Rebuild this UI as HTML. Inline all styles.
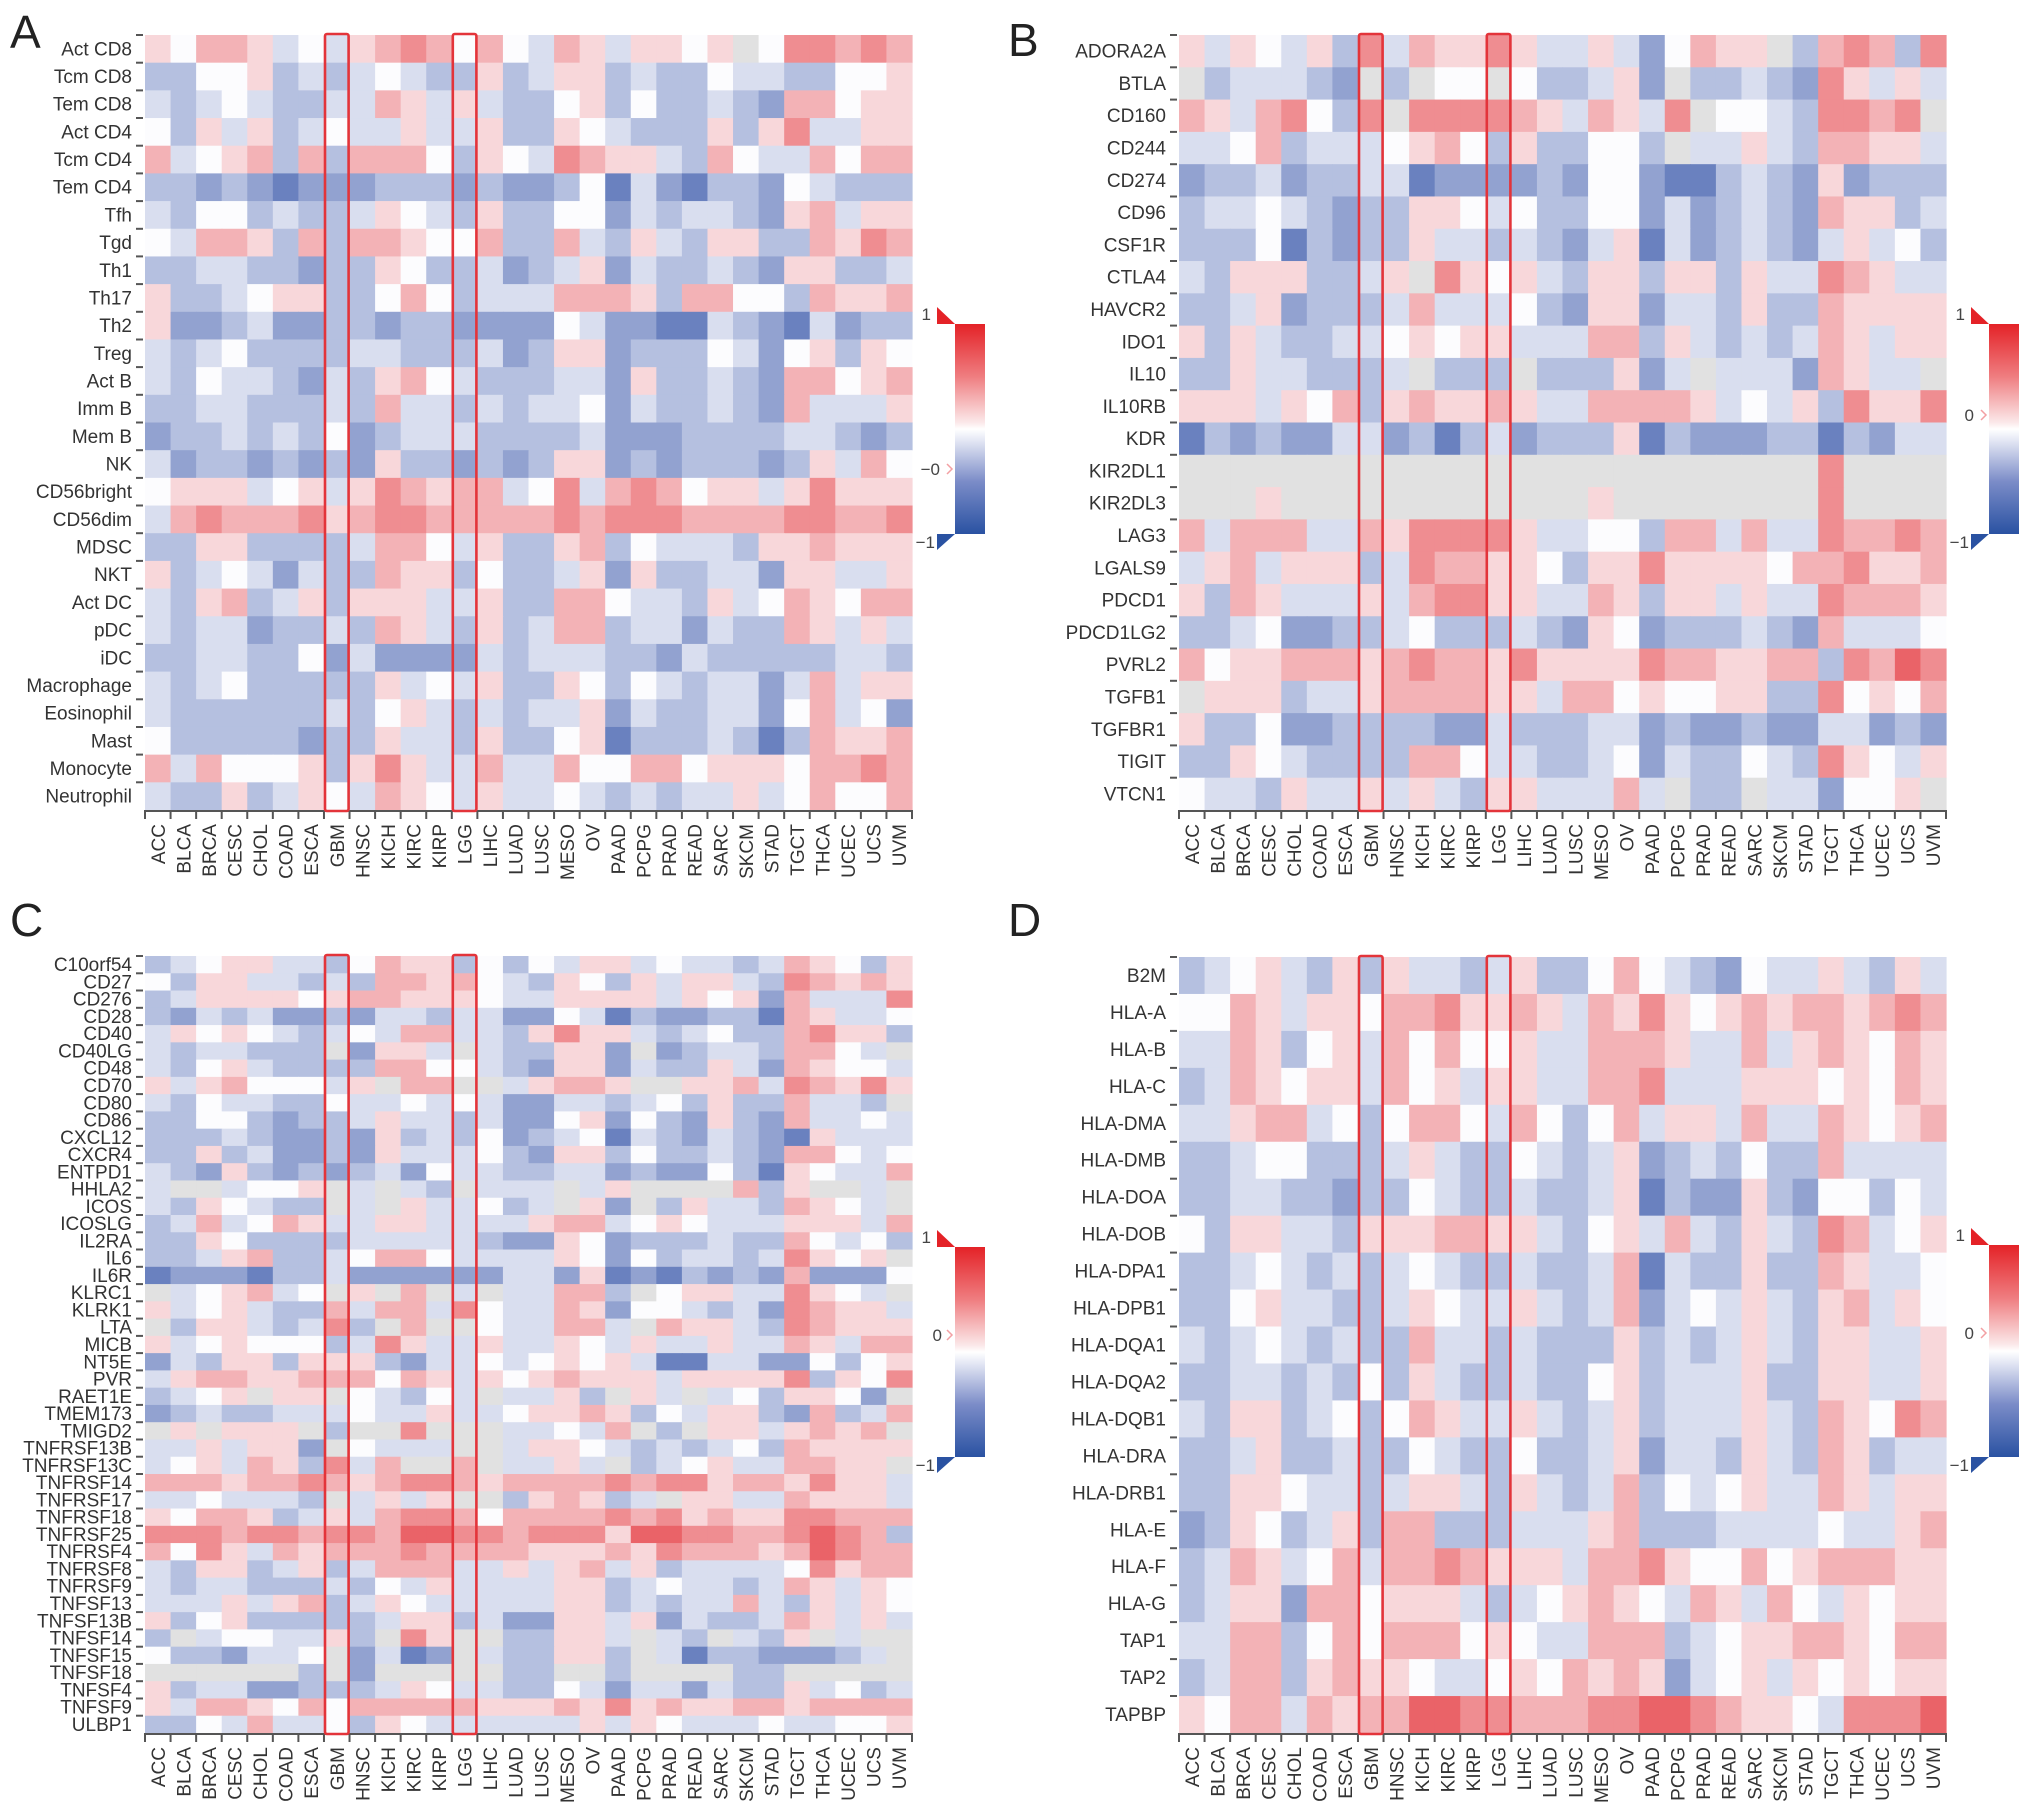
<!DOCTYPE html>
<html><head><meta charset="utf-8">
<style>
html,body{margin:0;padding:0;background:#fff;}
svg{display:block;font-family:"Liberation Sans",Arial,sans-serif;}
</style></head>
<body>
<svg id="fig" width="2032" height="1818" viewBox="0 0 2032 1818" xmlns="http://www.w3.org/2000/svg">
<defs>
<linearGradient id="cbar" x1="0" y1="0" x2="0" y2="1">
<stop offset="0" stop-color="#e42227"/>
<stop offset="0.25" stop-color="#ef7d80"/>
<stop offset="0.47" stop-color="#fbe9ea"/>
<stop offset="0.5" stop-color="#ffffff"/>
<stop offset="0.55" stop-color="#e6e9f5"/>
<stop offset="0.75" stop-color="#7b8cc8"/>
<stop offset="1" stop-color="#2a52a2"/>
</linearGradient>
</defs>
</svg>
<script>
// ---- data ----
const cancers = ["ACC","BLCA","BRCA","CESC","CHOL","COAD","ESCA","GBM","HNSC","KICH","KIRC","KIRP","LGG","LIHC","LUAD","LUSC","MESO","OV","PAAD","PCPG","PRAD","READ","SARC","SKCM","STAD","TGCT","THCA","UCEC","UCS","UVM"];
const highlighted = ["GBM","LGG"];
// level codes: D C B A = -0.62 -0.45 -0.3 -0.15 ; . = 0 ; a b c d = 0.15 0.3 0.45 0.62 ; g = NA
const rowsA = ["Act CD8","Tcm CD8","Tem CD8","Act CD4","Tcm CD4","Tem CD4","Tfh","Tgd","Th1","Th17","Th2","Treg","Act B","Imm B","Mem B","NK","CD56bright","CD56dim","MDSC","NKT","Act DC","pDC","iDC","Macrophage","Eosinophil","Mast","Monocyte","Neutrophil"];
const valuesA = [
"a . b b a A . A a b c b . b . A b a A a a . a g . c c b c b",
"B B . . a B A B A . A B B a B A a a B A B B . A A B B . . a",
"A B A . A B B A A b a A a A B B . a B . B B A B C b b . a a",
". B a A a B A . A A a A A a B B a . A B B B a B a c A A a a",
"b A . a b B b B b b b . B a . A c b a a A B b . A A b . b b",
"B B C B C D C C C B B B C B C C B . D A C D B B C . A B B B",
"A B . . B A B B A a . A B a B B . . C A B A A B C a b A a a",
". A b b a B b B b b a . . b B B b A B a A B a a B B b a c b",
"B B A A B B C B B a . B B A C B A a C A B B A B C a a B B A",
"a B B A . a a B B . b . B A A A b b b a B b b . . B b a a b",
"a C C B A C C B B C B B C C C C . A C C D D A B C D A C B B",
"A B A . B B B B A A B B B A C B a a C B B B . A C . a B a .",
"A B . A A B C A B a b . A B B B A A C a B B A B C b b . a b",
"B B A A B B B A B b A A B A B A A . C A B B A B C b A A A a",
"C B B A B A B . C B A A A B B B B A C C C B B B B A A B C B",
"A C B B C B C B C a B B C B C B a a C B C B B B C B a A b .",
". a a a A . a A a c b a b b A . c A b c b . a a A a c a a a",
"A b c b b b c a b c c b b b b b c b c c c b b b b c c b b c",
"B B a a B B B B A b b . A a B B a b B . A A A B a a b a a a",
"a B A . A C A B B b a a B . B B A a C a B B A A C a a A A a",
"A B a b B A a B a a a A A a B B b b . A A B a A . b a . b b",
"A B A A C B B A B b a A B a B A b b B A A C A B B b a A a A",
"B B A A B B . C A C C C C A B A A A B B C A B B B B B A A B",
"A B A . B B B B B a A . A a B B a . B . A B A A C A b A a a",
"A B B B B B B A B . a A B A B A A a C A B B A A C . b A . C",
". B B B B B C B B a A A B a B B . a D B B B A B D B b a a b",
"b A b . . . a B a c a A A b A A b . . b b . a a a . b b c b",
"A B B a B A a . A b a . A a A A . A B A B A A a A . b . . b"];
const rowsB = ["ADORA2A","BTLA","CD160","CD244","CD274","CD96","CSF1R","CTLA4","HAVCR2","IDO1","IL10","IL10RB","KDR","KIR2DL1","KIR2DL3","LAG3","LGALS9","PDCD1","PDCD1LG2","PVRL2","TGFB1","TGFBR1","TIGIT","VTCN1"];
const valuesB = [
"a A a . A a B c A b a a c a A A a A C . b a a g B b c b B c",
"g B A A A B C g B g . . g . B B A a C g B B A B C c a A a A",
"b a A b c . B c g c c c c b a A b a A c g . . A B c c b c g",
"A A . b B A A A . a b . B a B B . . B g A A a A B b b a a A",
"C B B A C B B A A D C C C C B C . . C D D B A B C a C B B B",
"B A A . A B C B B a a . A . B B . . C A C B A B C b a a B A",
"B B B . D B C B B a A A B A B C A a D A C B A B C A a A . B",
"A B a a a B B A a g c a . a A B a a B a a B a A A c b a A A",
"B B A a C B B B A b A A A . B C a a C A A B a B B b a a a a",
"a B a A B B A A . a . a a A A A b b B a A B A B A b a A a a",
"B B a A A B B B A g B B B g B B B a C A g A A A C b a A A g",
"a a a A a . b B a b a a b a A A b b b b a A . A a B c a a c",
"D B C B C C A A C B D B A C B B B a D B C C C B B D B C A A",
"g g g g g g g g g g g g g g g g g g g g g g g g g c g g g g",
"g g g a g g g g g g g g g g g g a g g g g g g g g c g g g g",
"b A b b b A A b a c c c c a A A . . B b b A b A A c b b c b",
"A a b A a a a B A c b b a a . B a a c a a a a . b b c a a b",
"a B b a A A A a A b c c a a A A b a B a a A a A A c b b b a",
"B B A . C C B B A . B B B A B C a . C B B B A B C b A A A .",
"b . a a b b b a b c b b a c a a a a c b b a a b b B c b d c",
"g a a a B A A a b b b b a a A b b . a . . a a B B c . a . b",
"a B B . C C B B B B C C A B B B A A C B C C B C C A A C B C",
"B B a . A B B B B b b . A A B B A . C A B B . A B c a . A a",
". A A B a A A a A a A B a a A A A b A g B B g A A C . . a g"];
const rowsC = ["C10orf54","CD27","CD276","CD28","CD40","CD40LG","CD48","CD70","CD80","CD86","CXCL12","CXCR4","ENTPD1","HHLA2","ICOS","ICOSLG","IL2RA","IL6","IL6R","KLRC1","KLRK1","LTA","MICB","NT5E","PVR","RAET1E","TMEM173","TMIGD2","TNFRSF13B","TNFRSF13C","TNFRSF14","TNFRSF17","TNFRSF18","TNFRSF25","TNFRSF4","TNFRSF8","TNFRSF9","TNFSF13","TNFSF13B","TNFSF14","TNFSF15","TNFSF18","TNFSF4","TNFSF9","ULBP1"];
const valuesC = [
"B A . a a A A B . b a a B . B . A a a A . A A B A b a . B a",
". B a a A A B A B b b a b . A B a . B a A a a A B c b a b a",
"B A a a a a . a b b a a a . A A a a a a A a . a C b A A A c",
"B C A B A C C B C A A B A A C C . A D B C C B B D b a A A .",
"A a . a . A B A . A b b A A B a c a a A B A . B B b c a a B",
"A B A A B B B g C a a A g A B B a a C g C B A A B b b . A g",
"A B . a A B B B B b b . . A B C a a C A B B a A C b a . . A",
"a A a b . . . A a g b b g g A a b b a g g a a b A c b a c a",
"A B . A A B B . A A . A . A C C A A B A . B a B B b A A B g",
"B B . . B C B B A a A A B A C C . a C . B C a B C b A A . A",
"B B B A B C C B C a B A B . C B A . D A B C A B C D a A A A",
"B B a B A C C B C a A A A . B C a a B . B B A B C b b . A .",
"A B C a B C B C B A C . A A B B A A C B C C . B D a . A A b",
"A g g A . . a g A g A B g A A A g A a g g g g b B a g g A g",
"A B a . A B B g A g a A A . B A g a C g B a A A B b a . A g",
"B A b A . b a A A a a A A A A a b b A . a . A A A a a a A b",
"B B a . B B B B A A A A A B C C a . C B B B A B B b . A . B",
"B B A a b B B A . b b . A A A A a . C . B A A B A c a . a g",
"D C C C D B B A C C C C C C A A C a D C D B C B C b C C C .",
"g A . a b A . g a g b g A g A A b b B g . a a A A c a . A g",
"a A . a A B B b A b b A c . A A b a C . . A B A C c b a a A",
"g B a a A B A c B g b g g . A A b b A g b a a A B c b a a a",
"a A . a . . . B A c a A A a A A a . A a A A a A A b a A b b",
"C A B a a B a a a B C A A . A . a . a A D D A A C C . B . a",
"A a b b a a b b b . b a A a . a b a a a A a a a a c B a . c",
"B A . a g a a g . A B . A g A A a B g a A g A . B a a . C g",
"C B A B B A A A . A A a A A . a a b a B . A a a B C b B A b",
"g a g a a a g B g g c g g g A A . A b g B g a a A a b a b g",
"A A a A a a C g . A A A g g A a a . A B A B A . B b a a a a",
"A . a A b a B c A b g g b g A A a A g B A . a A A b b a a g",
"b b b a b b c b a b c c b a b b b b c b c c a b b a c a a A",
"A A . A A A B g A a A a g g B a b a B A g a a A A b a a a A",
"a . b b a B A a A b c c b . b b b b c b c a b a a c c b b b",
"c c c b c c b c c b d d c c b c c c a d d c c b b c d c b B",
"b . c a A b a b b b c b b b b a a a b a c b b b a b d c b b",
"A B a a B A a B A b b b A A a A a b A a B A A A A . c a b b",
"A B A A B B B A B . A a A A A A a a B A . A A B A b a A a .",
"A A A a A a b B A a . A A A A A a a B A B A A b A B a A a .",
"a B . a B B B B B A a a B A C C a a A a C A B B A b a A a A",
"B g A . . A A a B g c a g g B B a a A g A B g A B a g A g g",
". B B C A A . g C A D C g A B B a a B g A D B B C C C B A g",
"g g g g g g B g C g g g g g B B g g B g g g g B B g g g g g",
"a B A A C C B B B A a . A A B B . A C A A C A B B a A . B A",
"a A b b a . b . b b b b b a a a b a c a b a a b b a b b b b",
"B B . A b A A . B a . A A A A A A a A a . A A A . A A . . a"];
const rowsD = ["B2M","HLA-A","HLA-B","HLA-C","HLA-DMA","HLA-DMB","HLA-DOA","HLA-DOB","HLA-DPA1","HLA-DPB1","HLA-DQA1","HLA-DQA2","HLA-DQB1","HLA-DRA","HLA-DRB1","HLA-E","HLA-F","HLA-G","TAP1","TAP2","TAPBP"];
const valuesD = [
"B A . a A B a B a A A B A a B B . b . A B C . A A a A B a A",
". . b a A a a . b b c a a b a A b a c a . a b a b b a b c b",
"A A b a B . a A b . b . . a A A b b b a A A b A a b a . b a",
"B A b a . a a A b . a A a a A A b b c A A A a a a . a . b a",
"A A a b b A . B . b b . A b . B . b A a a A b A A b a . a b",
"B B A . . B B B A a A B B . A B A a C B A B . B B b A A A A",
"B B A A B B C B B . A B B A B B A a D B C C a B C . . B . A",
". B a a A A B a a a b b a a A B . a A b A B a A B c b A . a",
"B B A . A B A B A . A B B A B B A b D A B B a B B b a A A .",
"B B . a A A B B A a . A A a A B A b C A . A a A B a b A a .",
"A B A . A B A B B b A A B A B B B a B A B A a A B a a A A a",
"B B A A B A B . B a A B B A B B . a B A A A a B B a a A A a",
"A B a a B A . B . b a A A a A B A a B A A A a A B b a . c b",
"B B A a B B A B B . A B B . B B A a C A A B a A B b a B A A",
"B B a a . A A B A a a A B a A B A b B . A . a A A b a A a a",
"C B a . B A a B b b B B B A A A a b B B B A A A A . A A a b",
"B A b a A . b A b b c b a a a A b b c a . . b . a b b b a a",
"B A a a C b b . a a a A B A . a b a . A b a A b . A a . a a",
"A A b b B . b . b b b . a . A A b b b B A . a a b b a . b b",
"B A b b B a b a a . A A . a . b a b a C A . a A a . a . a a",
"a . b b A b a b b d d c c b b b c c d d c b a a . A c c c d"];

// ---- encoding / scales ----
const codeVal = {"D":-0.62,"C":-0.45,"B":-0.3,"A":-0.15,".":0,"a":0.15,"b":0.3,"c":0.45,"d":0.62};
function decode(rows){
  return rows.map(r=>{
    const t=r.trim().split(/\s+/);
    while(t.length<30)t.push(".");
    return t.slice(0,30).map(c=> c==="g"?null:codeVal[c]);
  });
}
function colorFor(v){
  if(v===null||v===undefined) return "#e1e1e1";
  const w=[252,252,254];
  const e = v<0 ? [47,79,166] : [227,38,44];
  const t=Math.min(1,Math.abs(v)*1.15);
  const c=w.map((x,i)=>Math.round(x+(e[i]-x)*t));
  return "rgb("+c.join(",")+")";
}
const NS="http://www.w3.org/2000/svg";
const svg=document.getElementById("fig");
function mk(tag,attrs,parent){
  const el=document.createElementNS(NS,tag);
  for(const k in attrs) el.setAttribute(k,attrs[k]);
  (parent||svg).appendChild(el);
  return el;
}

const panels=[
 {key:"a",letter:"A",lx:10,ly:48,x0:145,y0:35,x1:912,y1:810,rows:rowsA,vals:valuesA,cb:{x:955,y:324,h:210,zeroY:469,zeroLbl:"\u22120",lblX:932}},
 {key:"b",letter:"B",lx:1008,ly:56,x0:1179,y0:35,x1:1946,y1:810,rows:rowsB,vals:valuesB,cb:{x:1989,y:324,h:210,zeroY:415,zeroLbl:"0",lblX:1966}},
 {key:"c",letter:"C",lx:10,ly:936,x0:145,y0:956,x1:912,y1:1733,rows:rowsC,vals:valuesC,cb:{x:955,y:1247,h:210,zeroY:1335,zeroLbl:"0",lblX:934}},
 {key:"d",letter:"D",lx:1008,ly:936,x0:1179,y0:957,x1:1946,y1:1733,rows:rowsD,vals:valuesD,cb:{x:1989,y:1245,h:212,zeroY:1333,zeroLbl:"0",lblX:1966}}
];

panels.forEach(p=>{
  const g=mk("g",{});
  
  
  const data=decode(p.vals);
  const nr=p.rows.length, nc=cancers.length;
  const cw=(p.x1-p.x0)/nc, rh=(p.y1-p.y0)/nr;
  const xS=i=>p.x0+i*cw, yS=j=>p.y0+j*rh;

  const L=mk("text",{x:p.lx,y:p.ly,"font-size":46,fill:"#222"},g);
  L.textContent=p.letter;
  
  

  data.forEach((row,j)=>row.forEach((v,i)=>{
    const r=mk("rect",{x:xS(i).toFixed(2),y:yS(j).toFixed(2),width:(cw+0.6).toFixed(2),height:(rh+0.6).toFixed(2),fill:colorFor(v)},g);
    
    
  }));

  p.rows.forEach((name,j)=>{
    const t=mk("text",{x:p.x0-13,y:(yS(j)+rh/2+6.5).toFixed(1),"font-size":19,fill:"#333","text-anchor":"end"},g);
    t.textContent=name;
    
    
    const tk=mk("line",{x1:p.x0-9,x2:p.x0-2,y1:yS(j).toFixed(1),y2:yS(j).toFixed(1),stroke:"#555","stroke-width":2},g);
    
    
  });

  const ax=mk("line",{x1:p.x0,x2:p.x1,y1:p.y1+1,y2:p.y1+1,stroke:"#555","stroke-width":2},g);
  
  
  cancers.forEach((c,i)=>{
    const tk=mk("line",{x1:xS(i),x2:xS(i),y1:p.y1,y2:p.y1+9,stroke:"#555","stroke-width":2},g);
    
    
    const cx=xS(i)+cw/2+7, ty=p.y1+14;
    const t=mk("text",{x:cx.toFixed(1),y:ty,"font-size":19,fill:"#333","text-anchor":"end",transform:"rotate(-90 "+cx.toFixed(1)+" "+ty+")"},g);
    t.textContent=c;
    
    
  });
  const tkEnd=mk("line",{x1:p.x1,x2:p.x1,y1:p.y1,y2:p.y1+9,stroke:"#555","stroke-width":2},g);
  
  

  highlighted.forEach(h=>{
    const i=cancers.indexOf(h);
    const b=mk("rect",{x:(xS(i)+1).toFixed(1),y:p.y0-1,width:(cw-2).toFixed(1),height:(p.y1-p.y0+2).toFixed(1),fill:"none",stroke:"#e3343a","stroke-width":2.6,rx:2},g);
    
    
  });

  const cb=p.cb;
  const bar=mk("rect",{x:cb.x,y:cb.y,width:30,height:cb.h,fill:"url(#cbar)"},g);
  
  
  const tr=mk("polygon",{points:(cb.x-18)+","+(cb.y-17)+" "+(cb.x-18)+","+cb.y+" "+(cb.x)+","+cb.y,fill:"#e42227"},g);
  
  
  const bl=mk("polygon",{points:(cb.x-18)+","+(cb.y+cb.h)+" "+(cb.x)+","+(cb.y+cb.h)+" "+(cb.x-18)+","+(cb.y+cb.h+16),fill:"#2a52a2"},g);
  
  
  const zm=mk("polyline",{points:(cb.x-8)+","+(cb.zeroY-5)+" "+(cb.x-3)+","+cb.zeroY+" "+(cb.x-8)+","+(cb.zeroY+5),fill:"none",stroke:"#f3a0a3","stroke-width":1.5},g);
  
  
  const l1=mk("text",{x:cb.x-24,y:cb.y-4,"font-size":17,fill:"#444","text-anchor":"end"},g);
  l1.textContent="1";
  
  
  const l0=mk("text",{x:cb.lblX+8,y:cb.zeroY+6,"font-size":17,fill:"#444","text-anchor":"end"},g);
  l0.textContent=cb.zeroLbl;
  
  
  const lm=mk("text",{x:cb.x-20,y:cb.y+cb.h+14,"font-size":17,fill:"#444","text-anchor":"end"},g);
  lm.textContent="\u22121";
  
  
});
</script>
</body></html>
